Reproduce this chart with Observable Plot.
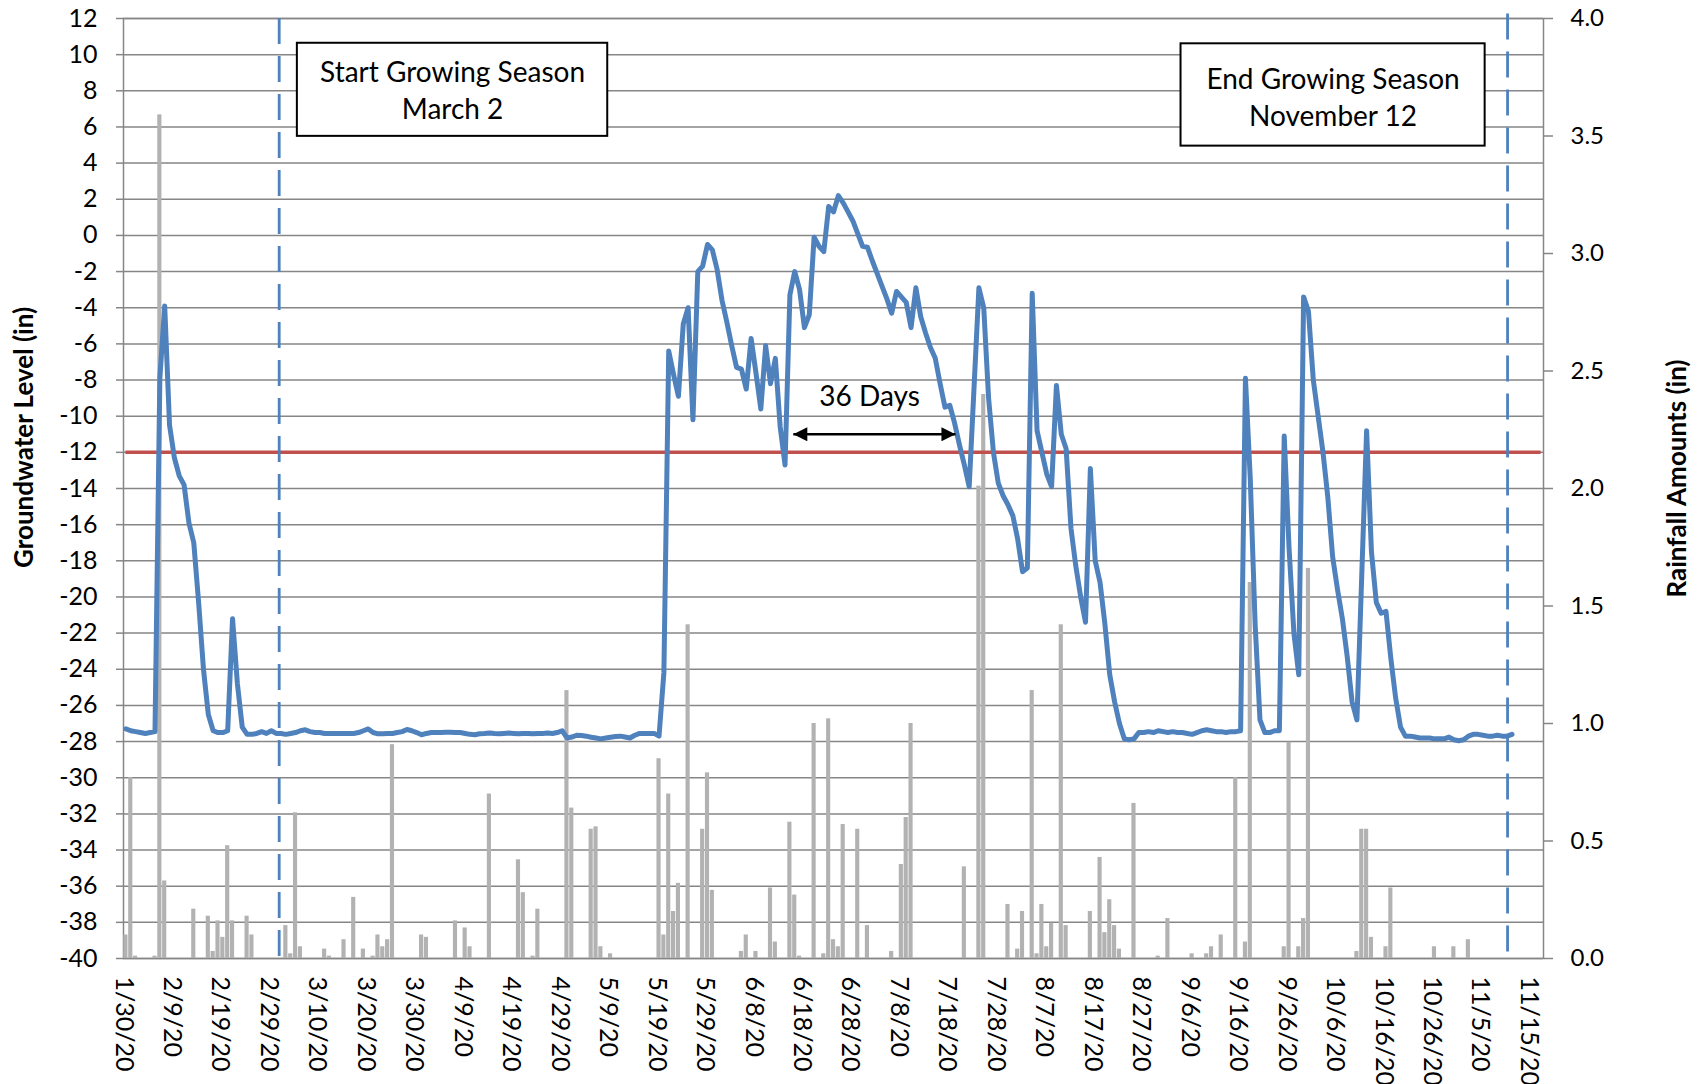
<!DOCTYPE html>
<html>
<head>
<meta charset="utf-8">
<script src="https://cdn.jsdelivr.net/npm/d3@7"></script>
<script src="https://cdn.jsdelivr.net/npm/@observablehq/plot@0.6"></script>
<style>
  html, body { margin: 0; padding: 0; background: #ffffff; }
  #chart { width: 1698px; height: 1084px; }
  #chart svg { overflow: visible; }
</style>
</head>
<body>
<div id="chart"></div>
<script>
// ---------------- data ----------------
const seriesStart = "2020-01-30T00:00Z";   // first daily reading (plotted at noon)
const axisStart = "2020-01-30T00:00Z";
const axisEnd = "2020-11-18T00:00Z";

// Daily groundwater level (in), 1/30/20 .. 11/11/20
const groundwater = [
  -27.3,-27.4,-27.45,-27.5,-27.55,-27.5,-27.45,-7.9,-3.9,-10.5,
  -12.3,-13.3,-13.8,-15.9,-17.0,-20.3,-24.0,-26.5,-27.4,-27.5,
  -27.5,-27.4,-21.2,-24.8,-27.2,-27.6,-27.6,-27.55,-27.45,-27.55,
  -27.4,-27.55,-27.55,-27.6,-27.55,-27.5,-27.4,-27.35,-27.45,-27.5,
  -27.5,-27.55,-27.55,-27.55,-27.55,-27.55,-27.55,-27.55,-27.5,-27.4,
  -27.3,-27.5,-27.57,-27.57,-27.55,-27.55,-27.5,-27.45,-27.33,-27.4,
  -27.5,-27.62,-27.55,-27.5,-27.5,-27.5,-27.48,-27.48,-27.5,-27.5,
  -27.55,-27.6,-27.62,-27.57,-27.55,-27.52,-27.55,-27.57,-27.55,-27.53,
  -27.55,-27.57,-27.55,-27.55,-27.57,-27.55,-27.55,-27.53,-27.55,-27.5,
  -27.4,-27.8,-27.75,-27.65,-27.66,-27.7,-27.76,-27.8,-27.85,-27.8,
  -27.76,-27.72,-27.7,-27.75,-27.8,-27.65,-27.55,-27.55,-27.55,-27.55,
  -27.7,-24.2,-6.4,-7.7,-8.9,-4.9,-4.0,-10.2,-2.0,-1.7,
  -0.5,-0.8,-1.9,-3.6,-4.8,-6.1,-7.3,-7.4,-8.5,-5.7,
  -7.6,-9.6,-6.1,-8.2,-6.8,-10.6,-12.7,-3.3,-2.0,-3.0,
  -5.1,-4.4,-0.1,-0.6,-0.9,1.6,1.3,2.2,1.8,1.3,
  0.8,0.1,-0.6,-0.65,-1.4,-2.1,-2.8,-3.5,-4.3,-3.1,
  -3.4,-3.7,-5.1,-2.9,-4.5,-5.4,-6.2,-6.8,-8.2,-9.5,
  -9.4,-10.4,-11.6,-12.7,-13.9,-8.4,-2.9,-4.0,-9.0,-12.0,
  -13.7,-14.4,-14.9,-15.5,-16.8,-18.6,-18.4,-3.2,-10.8,-12.0,
  -13.2,-13.9,-8.3,-11.0,-11.8,-16.2,-18.3,-20.0,-21.4,-12.9,
  -18.0,-19.2,-21.5,-24.3,-25.8,-27.0,-27.85,-27.9,-27.85,-27.5,
  -27.5,-27.45,-27.5,-27.4,-27.45,-27.5,-27.45,-27.5,-27.5,-27.55,
  -27.6,-27.5,-27.4,-27.35,-27.4,-27.45,-27.45,-27.5,-27.45,-27.45,
  -27.4,-7.9,-13.5,-21.5,-26.8,-27.5,-27.5,-27.4,-27.4,-11.1,
  -17.3,-22.0,-24.3,-3.4,-4.2,-8.0,-10.0,-12.0,-14.5,-17.8,
  -19.6,-21.2,-23.3,-25.8,-26.8,-18.8,-10.8,-17.5,-20.3,-20.9,
  -20.8,-23.4,-25.6,-27.2,-27.7,-27.7,-27.75,-27.8,-27.8,-27.8,
  -27.85,-27.85,-27.85,-27.75,-27.9,-27.95,-27.9,-27.7,-27.6,-27.6,
  -27.65,-27.7,-27.7,-27.65,-27.7,-27.7,-27.6
];

// Daily rainfall (in), same days
const rainfall = [
  0.10,0.77,0.01,0,0,0,0.01,3.59,0.33,0,
  0,0,0,0,0.21,0,0,0.18,0.03,0.16,
  0.09,0.48,0.16,0,0,0.18,0.10,0,0,0,
  0,0,0,0.14,0.02,0.62,0.05,0,0,0,
  0,0.04,0.01,0,0,0.08,0,0.26,0,0.04,
  0,0.01,0.10,0.05,0.08,0.91,0,0,0,0,
  0,0.10,0.09,0,0,0,0,0,0.16,0,
  0.13,0.05,0,0,0,0.70,0,0,0,0,
  0,0.42,0.28,0,0.01,0.21,0,0,0,0,
  0,1.14,0.64,0,0,0,0.55,0.56,0.05,0,
  0.02,0,0,0,0,0,0,0,0,0,
  0.85,0.10,0.70,0.20,0.32,0,1.42,0,0,0.55,
  0.79,0.29,0,0,0,0,0,0.03,0.10,0,
  0.03,0,0,0.30,0.07,0,0,0.58,0.27,0.01,
  0,0,1.00,0,0.02,1.02,0.08,0.05,0.57,0,
  0,0.55,0,0.14,0,0,0,0,0.03,0,
  0.40,0.60,1.00,0,0,0,0,0,0,0,
  0,0,0,0.39,0,0,2.01,2.40,0,0,
  0,0,0.23,0,0.04,0.20,0,1.14,0.02,0.23,
  0.05,0.15,0,1.42,0.14,0,0,0,0,0.20,
  0,0.43,0.11,0.25,0.14,0.04,0,0,0.66,0,
  0,0,0,0.01,0,0.17,0,0,0,0,
  0.02,0,0,0.02,0.05,0,0.10,0,0,0.77,
  0,0.07,1.60,0,0,0,0,0,0,0.05,
  0.92,0,0.05,0.17,1.66,0,0,0,0,0,
  0,0,0,0,0.03,0.55,0.55,0.09,0,0,
  0.05,0.30,0,0,0,0,0,0,0,0,
  0.05,0,0,0,0.05,0,0,0.08,0,0,
  0,0,0,0,0,0,0
];

// Axes
const levelDomain = [-40, 12];
const rainDomain = [0, 4];
const levelTicks = [-40,-38,-36,-34,-32,-30,-28,-26,-24,-22,-20,-18,-16,-14,-12,-10,-8,-6,-4,-2,0,2,4,6,8,10,12];
const rainTicks = [0, 0.5, 1.0, 1.5, 2.0, 2.5, 3.0, 3.5, 4.0];
const dateTicks = [
  "2020-01-30","2020-02-09","2020-02-19","2020-02-29","2020-03-10","2020-03-20",
  "2020-03-30","2020-04-09","2020-04-19","2020-04-29","2020-05-09","2020-05-19",
  "2020-05-29","2020-06-08","2020-06-18","2020-06-28","2020-07-08","2020-07-18",
  "2020-07-28","2020-08-07","2020-08-17","2020-08-27","2020-09-06","2020-09-16",
  "2020-09-26","2020-10-06","2020-10-16","2020-10-26","2020-11-05","2020-11-15"
];

// Threshold line (-12 in)
const threshold = [{level: -12, from: "2020-01-30T12:00Z", to: "2020-11-17T12:00Z"}];

// Growing-season dashed markers (as drawn in the picture)
const seasonMarkers = [
  {date: "2020-03-02T03:00Z", top: 12},
  {date: "2020-11-10T14:00Z", top: 12.25}
];

// Annotation boxes
const boxes = [
  {x1: "2020-03-05T21:00Z", x2: "2020-05-08T22:00Z", top: 10.63, bottom: 5.48,
   cx: "2020-04-06T21:30Z", base: 6.45, label: "Start Growing Season\nMarch 2"},
  {x1: "2020-09-04T05:00Z", x2: "2020-11-05T23:00Z", top: 10.6, bottom: 4.94,
   cx: "2020-10-05T14:00Z", base: 6.08, label: "End Growing Season\nNovember 12"}
];

// "36 Days" span arrow
const spanArrow = [{from: "2020-06-16T05:00Z", to: "2020-07-19T16:00Z", level: -11}];
const spanLabel = [{x: "2020-07-01T22:30Z", base: -9.41, label: "36 Days"}];

const yTitleLeft = "Groundwater Level (in)";
const yTitleRight = "Rainfall Amounts (in)";

// ---------------- build ----------------
const DAY = 86400000;
const t0 = new Date(seriesStart).getTime();
const rows = groundwater.map((level, i) => ({
  date: new Date(t0 + (i + 0.5) * DAY),
  start: new Date(t0 + i * DAY),
  end: new Date(t0 + (i + 1) * DAY),
  level,
  rain: rainfall[i]
}));
const rainToLevel = r => levelDomain[0] + (r - rainDomain[0]) * (levelDomain[1] - levelDomain[0]) / (rainDomain[1] - rainDomain[0]);
const levelToRain = v => rainDomain[0] + (v - levelDomain[0]) * (rainDomain[1] - rainDomain[0]) / (levelDomain[1] - levelDomain[0]);
const D = s => new Date(s);
const fmtDate = d3.utcFormat("%-m/%-d/%y");

const gridColor = "#868686";
const blue = "#4F81BD";
const red = "#C0504D";
const barGray = "#b2b2b2";
const font = "Lato, 'Open Sans', sans-serif";

const chart = Plot.plot({
  width: 1698,
  height: 1084,
  marginLeft: 123,
  marginRight: 155,
  marginTop: 18,
  marginBottom: 126,
  style: {fontFamily: font, background: "#ffffff", color: "#000000", overflow: "visible"},
  x: {type: "utc", domain: [D(axisStart), D(axisEnd)], label: null},
  y: {domain: levelDomain, label: null},
  marks: [
    Plot.ruleY(levelTicks, {stroke: gridColor, strokeWidth: 1.5}),
    Plot.frame({stroke: gridColor, strokeWidth: 1.5}),
    Plot.rect(rows.filter(d => d.rain > 0), {
      x1: "start", x2: "end",
      y1: () => levelDomain[0], y2: d => rainToLevel(d.rain),
      fill: barGray, insetLeft: 0.35, insetRight: 0.35
    }),
    Plot.ruleY(threshold, {y: "level", x1: d => D(d.from), x2: d => D(d.to), stroke: red, strokeWidth: 3.5}),
    Plot.line(rows, {x: "date", y: "level", stroke: blue, strokeWidth: 5, strokeLinejoin: "round", strokeLinecap: "round"}),
    Plot.ruleX(seasonMarkers, {x: d => D(d.date), y1: "top", y2: () => levelDomain[0], stroke: blue, strokeWidth: 2.8, strokeDasharray: "26,12"}),
    Plot.rect(boxes, {x1: d => D(d.x1), x2: d => D(d.x2), y1: "bottom", y2: "top", fill: "#ffffff", stroke: "#000000", strokeWidth: 2}),
    Plot.text(boxes, {x: d => D(d.cx), y: "base", text: "label", fontSize: 28, lineAnchor: "bottom", lineHeight: 1.31, fill: "#000000", fontFamily: font}),
    Plot.link(spanArrow, {x1: d => D(d.from), x2: d => D(d.to), y1: "level", y2: "level", stroke: "#000000", strokeWidth: 2.5}),
    Plot.text(spanLabel, {x: d => D(d.x), y: "base", text: "label", fontSize: 28, lineAnchor: "bottom", fill: "#000000", fontFamily: font}),
    Plot.axisY(levelTicks, {anchor: "left", tickSize: 7, tickPadding: 19, stroke: gridColor, strokeWidth: 1.5, fill: "#000000",
      fontSize: 25, tickFormat: d => String(d), label: null}),
    Plot.axisY(rainTicks.map(rainToLevel), {anchor: "right", tickSize: 9, tickPadding: 18, stroke: gridColor, strokeWidth: 1.5, fill: "#000000",
      fontSize: 24, tickFormat: v => levelToRain(v).toFixed(1), label: null}),
    Plot.axisX(dateTicks.map(s => D(s + "T00:00Z")), {anchor: "bottom", tickSize: 0, tickPadding: 18, tickRotate: 90,
      fontSize: 25, fill: "#000000", tickFormat: fmtDate, label: null}),
    Plot.text([yTitleLeft], {frameAnchor: "left", textAnchor: "middle", dx: -99, dy: -51, rotate: -90, fontSize: 26, fontWeight: "bold", fill: "#000000", fontFamily: font}),
    Plot.text([yTitleRight], {frameAnchor: "right", textAnchor: "middle", dx: 134, dy: -10, rotate: -90, fontSize: 26, fontWeight: "bold", fill: "#000000", fontFamily: font})
  ]
});

document.getElementById("chart").appendChild(chart);

// filled triangle arrowheads on the span arrow
const svg = d3.select(chart.tagName.toLowerCase() === "svg" ? chart : chart.querySelector("svg"));
const defs = svg.append("defs");
defs.append("marker")
  .attr("id", "span-tri")
  .attr("viewBox", "0 0 10 10")
  .attr("refX", 10).attr("refY", 5)
  .attr("markerUnits", "userSpaceOnUse")
  .attr("markerWidth", 16).attr("markerHeight", 14)
  .attr("orient", "auto-start-reverse")
  .append("path").attr("d", "M0,0L10,5L0,10Z").attr("fill", "#000000");
svg.selectAll('g[aria-label="link"] path')
  .attr("marker-start", "url(#span-tri)")
  .attr("marker-end", "url(#span-tri)");
</script>
</body>
</html>
